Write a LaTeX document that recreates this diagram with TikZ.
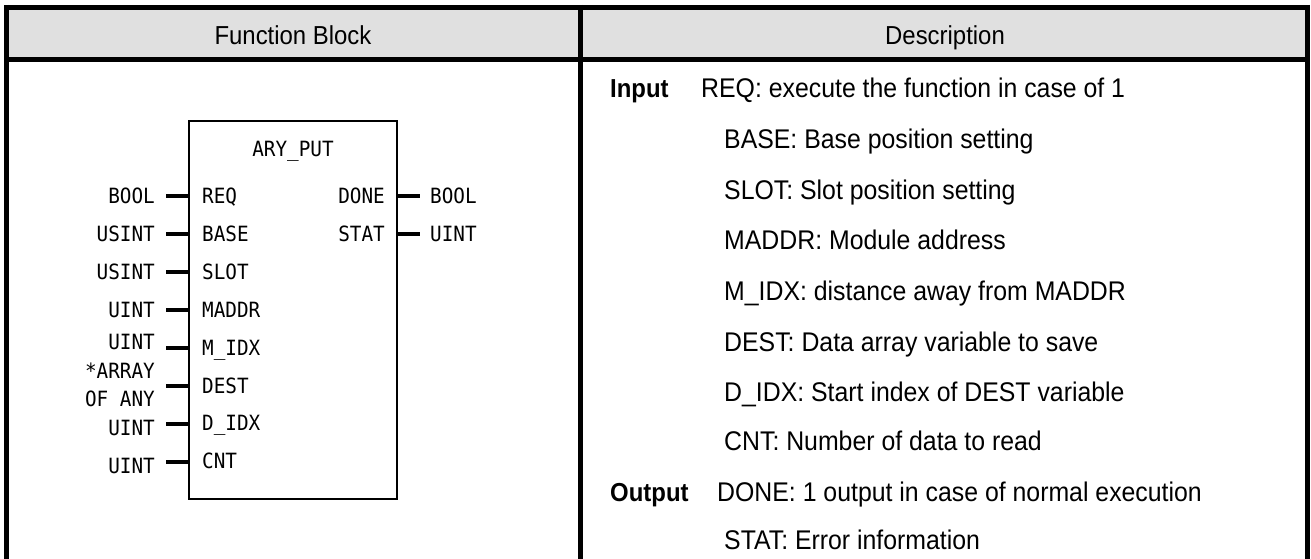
\documentclass[tikz,border=0pt]{standalone}
\usepackage{fontspec}
\setmainfont{Liberation Sans}[FakeStretch=0.92]
\newfontfamily\blkfont{DejaVu Sans Mono}[FakeStretch=0.92]
\definecolor{hdrgray}{RGB}{224,224,224}
\begin{document}
\begin{tikzpicture}[x=1pt,y=-1pt,
  border/.style={line width=5pt},
  hdr/.style={font=\fontsize{26}{30}\selectfont, inner sep=0pt, text height=18.6pt, text depth=0pt},
  desc/.style={font=\fontsize{27}{30}\selectfont, anchor=west, inner sep=0pt, text height=19.3pt, text depth=0pt},
  lbl/.style={font=\fontsize{26}{30}\bfseries\selectfont, anchor=west, inner sep=0pt, text height=18.6pt, text depth=0pt},
  mono/.style={font=\blkfont\fontsize{21}{24}\selectfont, inner sep=0pt, text height=15.3pt, text depth=0pt},
  stub/.style={line width=4pt},
  fb/.style={draw, line width=2.5pt, minimum width=208pt, minimum height=378pt, inner sep=0pt}
]
\useasboundingbox (0,0) rectangle (1311,559);
% header
\fill[hdrgray] (6.5,7.5) rectangle (1307.5,59.5);
\draw[border] (4,7.5) -- (1310,7.5);
\draw[border] (4,59.5) -- (1310,59.5);
\draw[border] (6.5,5) -- (6.5,559);
\draw[border] (1307.5,5) -- (1307.5,559);
\draw[border] (580,5) -- (580,559);
\node[hdr] (h1) at (293,35) {Function Block};
\node[hdr] (h2) at (945,35) {Description};

% function block
\node[fb] (blk) at (293,310) {};
\node[mono] (title) at (293,149) {ARY\_PUT};

% inputs
\node[mono, anchor=west] (iREQ) at (202,196) {REQ};
\node[mono, anchor=west] (iBASE) at (202,234) {BASE};
\node[mono, anchor=west] (iSLOT) at (202,272) {SLOT};
\node[mono, anchor=west] (iMADDR) at (202,310) {MADDR};
\node[mono, anchor=west] (iMIDX) at (202,348) {M\_IDX};
\node[mono, anchor=west] (iDEST) at (202,386) {DEST};
\node[mono, anchor=west] (iDIDX) at (202,423) {D\_IDX};
\node[mono, anchor=west] (iCNT) at (202,461) {CNT};

\node[mono, anchor=east] (oDONE) at (385,196) {DONE};
\node[mono, anchor=east] (oSTAT) at (385,234) {STAT};

% types left
\node[mono, anchor=east] (tREQ) at (155,196) {BOOL};
\node[mono, anchor=east] (tBASE) at (155,234) {USINT};
\node[mono, anchor=east] (tSLOT) at (155,272) {USINT};
\node[mono, anchor=east] (tMADDR) at (155,310) {UINT};
\node[mono, anchor=east] (tMIDX) at (155,342) {UINT};
\node[mono, anchor=east] (tDEST1) at (155,371) {*ARRAY};
\node[mono, anchor=east] (tDEST2) at (155,399) {OF ANY};
\node[mono, anchor=east] (tDIDX) at (155,428) {UINT};
\node[mono, anchor=east] (tCNT) at (155,466) {UINT};

% types right
\node[mono, anchor=west] (tDONE) at (430,196) {BOOL};
\node[mono, anchor=west] (tSTAT) at (430,234) {UINT};

% stubs
\foreach \c/\yy in {sREQ/196, sBASE/234, sSLOT/272, sMADDR/310, sMIDX/348, sDEST/386, sDIDX/424, sCNT/462}{
  \coordinate (\c) at (166,\yy);
  \draw[stub] (\c) -- (\c -| blk.west);
}
\foreach \c/\yy in {sDONE/196, sSTAT/234}{
  \coordinate (\c) at (420,\yy);
  \draw[stub] (\c -| blk.east) -- (\c);
}

% description
\node[lbl] (lin) at (610,88) {Input};
\node[lbl] (lout) at (610,492) {Output};
\node[desc] (dREQ) at (701,88) {REQ: execute the function in case of 1};
\node[desc] (dBASE) at (724,139) {BASE: Base position setting};
\node[desc] (dSLOT) at (724,190) {SLOT: Slot position setting};
\node[desc] (dMADDR) at (724,240) {MADDR: Module address};
\node[desc] (dMIDX) at (724,291) {M\_IDX: distance away from MADDR};
\node[desc] (dDEST) at (724,342) {DEST: Data array variable to save};
\node[desc] (dDIDX) at (724,392) {D\_IDX: Start index of DEST variable};
\node[desc] (dCNT) at (724,441) {CNT: Number of data to read};
\node[desc] (dDONE) at (717,492) {DONE: 1 output in case of normal execution};
\node[desc] (dSTAT) at (724,540) {STAT: Error information};
\end{tikzpicture}
\end{document}
